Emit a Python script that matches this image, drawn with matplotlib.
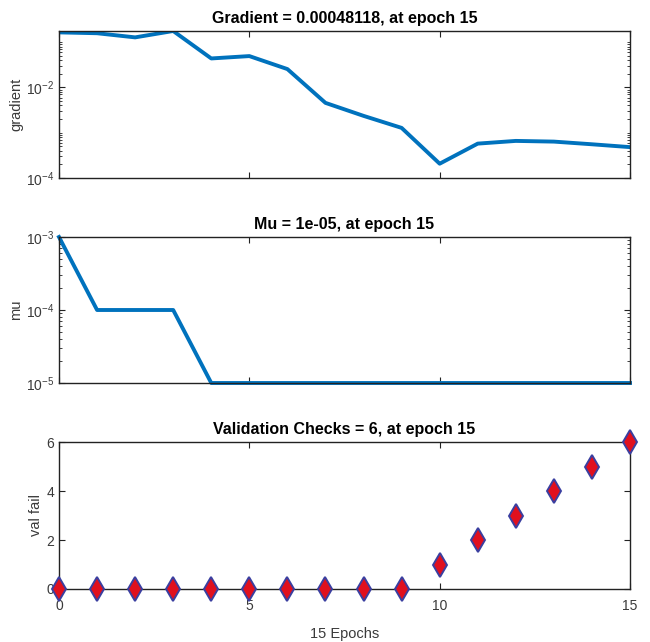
import numpy as np
import matplotlib
matplotlib.use("Agg")
import matplotlib.pyplot as plt
from matplotlib.ticker import LogLocator, NullFormatter, FixedLocator

plt.rcParams['font.family'] = ['Liberation Sans Narrow', 'Liberation Sans', 'DejaVu Sans']

#data
epochs = list(range(16))
gradient = [0.165, 0.158, 0.128, 0.177, 0.0438, 0.0494, 0.0255, 0.00457,
            0.00236, 0.00128, 0.000207, 0.000575, 0.00066, 0.000637, 0.000556, 0.00048118]
mu = [1e-3, 1e-4, 1e-4, 1e-4, 1e-5, 1e-5, 1e-5, 1e-5,
      1e-5, 1e-5, 1e-5, 1e-5, 1e-5, 1e-5, 1e-5, 1e-5]
val_fail = [0, 0, 0, 0, 0, 0, 0, 0, 0, 0, 1, 2, 3, 4, 5, 6]

titles = ["Gradient = 0.00048118, at epoch 15",
          "Mu = 1e-05, at epoch 15",
          "Validation Checks = 6, at epoch 15"]
ylabels = ["gradient", "mu", "val fail"]

line_color = "#0072BD"
text_color = "#3a3a3a"

fig = plt.figure(figsize=(6.5, 6.42), dpi=100)
left, width = 59/650, 571/650
ax1 = fig.add_axes([left, 1-178/642, width, 147/642])
ax2 = fig.add_axes([left, 1-383/642, width, 146/642])
ax3 = fig.add_axes([left, 1-589/642, width, 147/642])

#gradient
ax1.semilogy(epochs, gradient, color=line_color, linewidth=2.8)
ax1.set_ylim(1e-4, max(gradient))
ax1.yaxis.set_major_locator(FixedLocator([1e-4, 1e-2]))

#mu
ax2.semilogy(epochs, mu, color=line_color, linewidth=2.8, clip_on=False)
ax2.set_ylim(1e-5, 1e-3)
ax2.yaxis.set_major_locator(FixedLocator([1e-5, 1e-4, 1e-3]))

for a in (ax1, ax2):
    a.yaxis.set_minor_locator(LogLocator(base=10, subs=np.arange(1, 10), numticks=20))
    a.yaxis.set_minor_formatter(NullFormatter())
    a.set_xticklabels([])

#validation checks
ax3.plot(epochs, val_fail, linestyle="none", marker="d", markersize=12,
         markerfacecolor="#e0101e", markeredgecolor="#3a3fa0", markeredgewidth=1.4,
         clip_on=False, zorder=5)
ax3.set_ylim(0, 6)
ax3.set_yticks([0, 2, 4, 6])
ax3.set_xlabel("15 Epochs", fontsize=10.5, color=text_color, labelpad=10)
ax3.tick_params(axis="x", pad=7)

for a, t, yl in zip((ax1, ax2, ax3), titles, ylabels):
    a.set_xlim(0, 15)
    a.set_xticks([0, 5, 10, 15])
    a.set_title(t, fontsize=11.5, fontweight="bold", pad=6)
    a.set_ylabel(yl, fontsize=10.5, color=text_color, labelpad=2)
    a.tick_params(which="both", direction="in", top=True, right=True,
                  labelsize=10, labelcolor=text_color, color="#222222")
    a.tick_params(which="major", length=4)
    a.tick_params(which="minor", length=2)
    for s in a.spines.values():
        s.set_color("#222222")
        s.set_linewidth(1.0)

fig.savefig("out.png", dpi=100)
